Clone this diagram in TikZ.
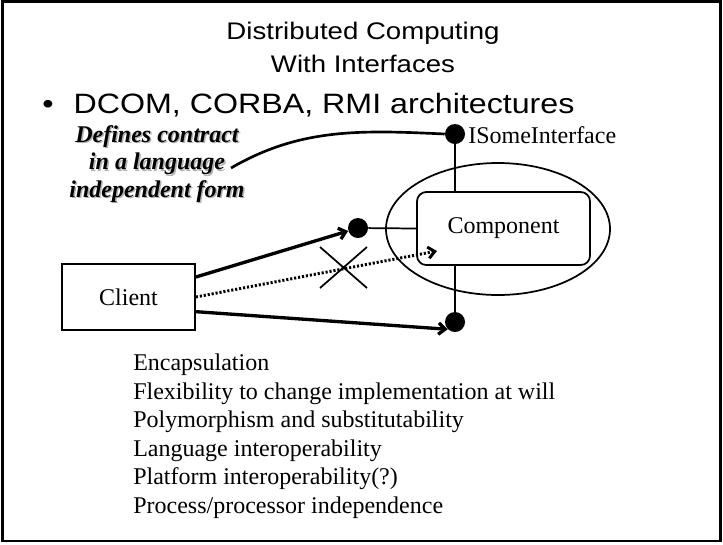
\documentclass[tikz,border=0pt]{standalone}
\usepackage{fontspec}
\setmainfont{Liberation Serif}
\newfontfamily\slidefont[FakeStretch=1.15]{Liberation Sans}
\usetikzlibrary{shapes.geometric,arrows.meta}

\tikzset{
  lolli/.style={circle,fill=black,inner sep=0pt,minimum size=15pt},
  callarrow/.style={line width=2.5pt,-{Straight Barb[length=5pt,width=8.5pt]}},
  thinline/.style={line width=1.3pt},
  notefont/.style={font=\bfseries\itshape\fontsize{18}{20.6}\selectfont,align=center,anchor=north,inner sep=0pt}
}

\begin{document}
\begin{tikzpicture}[x=0.75pt,y=-0.75pt]
\useasboundingbox (0,0) rectangle (723,544);
\draw[line width=1.9pt] (2.5,1.5) rectangle (720.5,541);

\node [font=\slidefont\fontsize{18}{24.75}\selectfont, align=center, anchor=north, inner sep=0pt] (title) at (363,21.5) {Distributed Computing\\With Interfaces};
\node [font=\slidefont\fontsize{21}{25}\selectfont, anchor=base west, inner sep=0pt] (bullet) at (42,113) {•\hspace{15pt}DCOM, CORBA, RMI architectures};

% callout text with its shadow
\node [notefont, text=black!30] (noteshadow) at (158.5,126.5) {Defines contract\\in a language\\independent form};
\node [notefont] (note) at (157,125) {Defines contract\\in a language\\independent form};

\node [ellipse, draw, thinline, minimum width=168pt, minimum height=99pt] (shell) at (498,229) {};
\node [draw, thinline, rounded corners=7pt, minimum width=129.75pt, minimum height=54.75pt, font=\fontsize{18}{22}\selectfont] (comp) at (503.5,228.5) {Component};

\node [lolli] (topdot) at (455,134) {};
\node [lolli] (leftdot) at (358,228) {};
\node [lolli] (botdot) at (455,322) {};
\node [anchor=west, inner sep=0pt, font=\fontsize{18}{22}\selectfont] (iface) at (468,135) {ISomeInterface};

\node [draw, thinline, minimum width=99.75pt, minimum height=49.5pt, font=\fontsize{18}{22}\selectfont] (client) at (128.5,297) {Client};

\draw [thinline] (topdot) -- (topdot |- comp.north);
\draw [thinline] (leftdot) -- (comp.west);
\draw [thinline] (comp.south -| botdot) -- (botdot);

\coordinate (noteend) at (231,168);
\draw [line width=2pt] (noteend) .. controls (300,128) and (360,130) .. (topdot.west);

\draw [callarrow] ([yshift=15pt]client.east) -- (leftdot);
\coordinate (dotend) at (437,251);
\draw [callarrow, line width=2.2pt, dash pattern=on 1.6pt off 1.4pt] (client.east) -- (dotend);
\draw [callarrow] ([yshift=-11pt]client.east) -- (botdot.south west);

% the crossed-out path
\draw [thinline] (320,247) -- (367,288) (367,247) -- (320,288);

\node [anchor=north west, align=left, inner sep=0pt, font=\fontsize{18}{21.45}\selectfont] (props) at (133,353.6) {Encapsulation\\Flexibility to change implementation at will\\Polymorphism and substitutability\\Language interoperability\\Platform interoperability(?)\\Process/processor independence};

\end{tikzpicture}
\end{document}
